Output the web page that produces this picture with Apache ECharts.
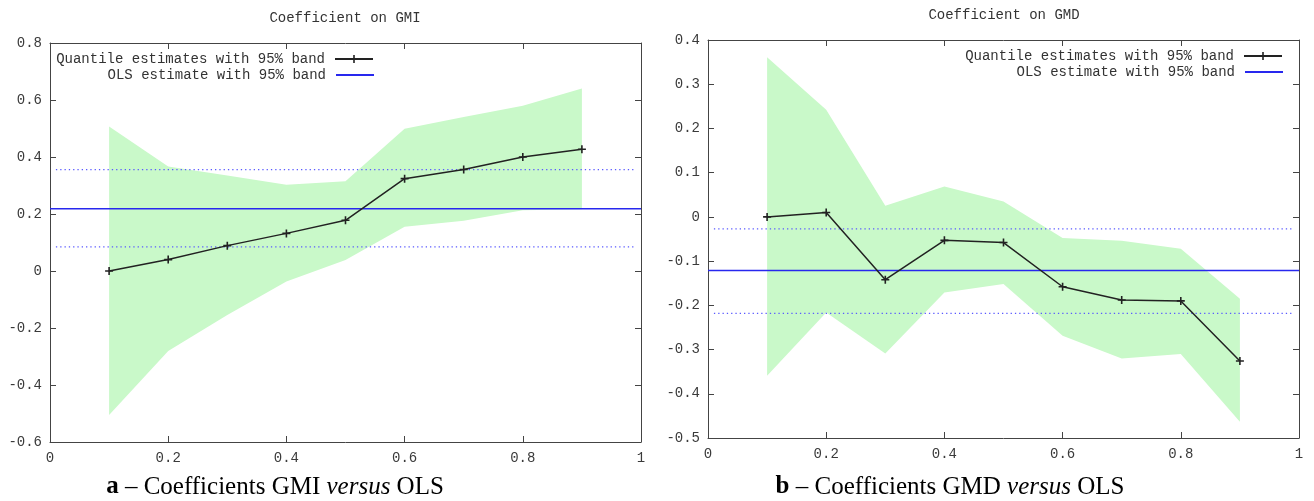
<!DOCTYPE html>
<html>
<head>
<meta charset="utf-8">
<script src="https://cdn.jsdelivr.net/npm/echarts@6/dist/echarts.min.js"></script>
<style>
  html, body { margin: 0; padding: 0; background: #fff; }
  #chart { width: 1314px; height: 501px; }
</style>
</head>
<body>
<div id="chart"></div>
<script>
  // quantiles on the x axis
  var quantiles = [0.1, 0.2, 0.3, 0.4, 0.5, 0.6, 0.7, 0.8, 0.9];

  // panel a: coefficient on GMI
  var gmiCoef  = [0, 0.04, 0.089, 0.132, 0.178, 0.324, 0.356, 0.4, 0.427];
  var gmiLower = [-0.505, -0.281, -0.154, -0.037, 0.039, 0.155, 0.176, 0.213, 0.217];
  var gmiUpper = [0.507, 0.367, 0.335, 0.303, 0.315, 0.499, 0.54, 0.58, 0.64];
  var gmiOls = [0.085, 0.218, 0.356]; // low, estimate, high

  // panel b: coefficient on GMD
  var gmdCoef  = [0, 0.01, -0.142, -0.053, -0.058, -0.158, -0.188, -0.19, -0.326];
  var gmdLower = [-0.359, -0.216, -0.309, -0.171, -0.152, -0.269, -0.32, -0.31, -0.463];
  var gmdUpper = [0.361, 0.242, 0.025, 0.069, 0.035, -0.048, -0.054, -0.072, -0.185];
  var gmdOls = [-0.218, -0.121, -0.027];

  var xTicks = { min: 0, max: 1, interval: 0.2 };
  var gmiTicks = { min: -0.6, max: 0.8, interval: 0.2 };
  var gmdTicks = { min: -0.5, max: 0.4, interval: 0.1 };

  var QNAME = 'Quantile estimates with 95% band';
  var ONAME = 'OLS estimate with 95% band';
  var mono = '"Liberation Mono", "DejaVu Sans Mono", monospace';
  var serif = '"Liberation Serif", "DejaVu Serif", serif';
  var bandColor = '#c9f9c9';
  var olsColor = '#2828ee';
  var plusSymbol = 'path://M4,0h2v10h-2z M0,4h10v2h-10z';

  function zip(xs, ys) {
    return xs.map(function (x, i) { return [x, ys[i]]; });
  }

  function axisPair(kind, grid, ticks) {
    var base = {
      gridIndex: grid,
      type: 'value',
      min: ticks.min,
      max: ticks.max,
      interval: ticks.interval,
      axisLine: { show: true, onZero: false, lineStyle: { color: '#444', width: 1 } },
      axisTick: { show: true, inside: true, length: 6, lineStyle: { color: '#444' } },
      splitLine: { show: false }
    };
    var first = Object.assign({}, base, {
      position: kind === 'x' ? 'bottom' : 'left',
      axisLabel: { show: true, color: '#3a3a3a', fontFamily: mono, fontSize: 14, margin: kind === 'x' ? 9 : 8 }
    });
    var second = Object.assign({}, base, {
      position: kind === 'x' ? 'top' : 'right',
      axisLabel: { show: false }
    });
    return [first, second];
  }

  // the 95% band as one polygon: upper edge left to right, lower edge back
  function bandSeries(xi, yi, lower, upper) {
    return {
      type: 'custom', xAxisIndex: xi, yAxisIndex: yi, silent: true, z: 1,
      data: [0],
      renderItem: function (params, api) {
        var pts = [];
        quantiles.forEach(function (q, i) { pts.push(api.coord([q, upper[i]])); });
        for (var i = quantiles.length - 1; i >= 0; i--) pts.push(api.coord([quantiles[i], lower[i]]));
        return { type: 'polygon', shape: { points: pts }, style: { fill: bandColor } };
      }
    };
  }

  function panelSeries(xi, yi, coef, lower, upper, ols) {
    var dotted = { color: '#5a5aff', width: 1.3, type: [1.3, 3] };
    return [
      bandSeries(xi, yi, lower, upper),
      {
        type: 'line', xAxisIndex: xi, yAxisIndex: yi,
        data: [[0.01, ols[0]], [0.99, ols[0]]], symbol: 'none', lineStyle: dotted, z: 2
      },
      {
        type: 'line', xAxisIndex: xi, yAxisIndex: yi,
        data: [[0.01, ols[2]], [0.99, ols[2]]], symbol: 'none', lineStyle: dotted, z: 2
      },
      {
        name: ONAME, type: 'line', xAxisIndex: xi, yAxisIndex: yi,
        data: [[0, ols[1]], [1, ols[1]]], symbol: 'none',
        lineStyle: { color: olsColor, width: 1.5 }, itemStyle: { color: olsColor }, z: 3
      },
      {
        name: QNAME, type: 'line', xAxisIndex: xi, yAxisIndex: yi,
        data: zip(quantiles, coef), symbol: plusSymbol, symbolSize: 8,
        lineStyle: { color: '#222', width: 1.5 }, itemStyle: { color: '#222' }, z: 4
      }
    ];
  }

  function legendAt(name, right, top, flat) {
    return {
      data: [flat ? { name: name, icon: 'rect' } : name],
      right: right, top: top, padding: 0,
      align: 'right', itemWidth: 38, itemHeight: flat ? 2 : 10, selectedMode: false,
      textStyle: { fontFamily: mono, fontSize: 14, color: '#333', padding: [0, 5, 0, 0] }
    };
  }

  function caption(x, text) {
    return {
      type: 'text', x: x, y: 487,
      style: {
        text: text, align: 'center', verticalAlign: 'middle',
        fontFamily: serif, fontSize: 25, fill: '#000',
        rich: {
          b: { fontFamily: serif, fontSize: 25, fontWeight: 'bold', fill: '#000' },
          i: { fontFamily: serif, fontSize: 25, fontStyle: 'italic', fill: '#000' }
        }
      }
    };
  }

  var gmiX = axisPair('x', 0, xTicks), gmiY = axisPair('y', 0, gmiTicks);
  var gmdX = axisPair('x', 1, xTicks), gmdY = axisPair('y', 1, gmdTicks);

  var option = {
    animation: false,
    backgroundColor: '#fff',
    grid: [
      { left: 50, top: 43, width: 591, height: 399 },
      { left: 708, top: 40, width: 591, height: 398 }
    ],
    xAxis: [gmiX[0], gmiX[1], gmdX[0], gmdX[1]],
    yAxis: [gmiY[0], gmiY[1], gmdY[0], gmdY[1]],
    legend: [
      legendAt(QNAME, 940, 52, false),
      legendAt(ONAME, 940, 68, true),
      legendAt(QNAME, 31, 49, false),
      legendAt(ONAME, 31, 65, true)
    ],
    graphic: [
      { type: 'text', x: 345, y: 18, style: { text: 'Coefficient on GMI', align: 'center', verticalAlign: 'middle', fontFamily: mono, fontSize: 14, fill: '#333' } },
      { type: 'text', x: 1004, y: 15, style: { text: 'Coefficient on GMD', align: 'center', verticalAlign: 'middle', fontFamily: mono, fontSize: 14, fill: '#333' } },
      caption(275, '{b|a} – Coefficients GMI {i|versus} OLS'),
      caption(950, '{b|b} – Coefficients GMD {i|versus} OLS')
    ],
    series: []
      .concat(panelSeries(0, 0, gmiCoef, gmiLower, gmiUpper, gmiOls))
      .concat(panelSeries(2, 2, gmdCoef, gmdLower, gmdUpper, gmdOls))
  };

  var chart = echarts.init(document.getElementById('chart'));
  chart.setOption(option);
</script>
</body>
</html>
